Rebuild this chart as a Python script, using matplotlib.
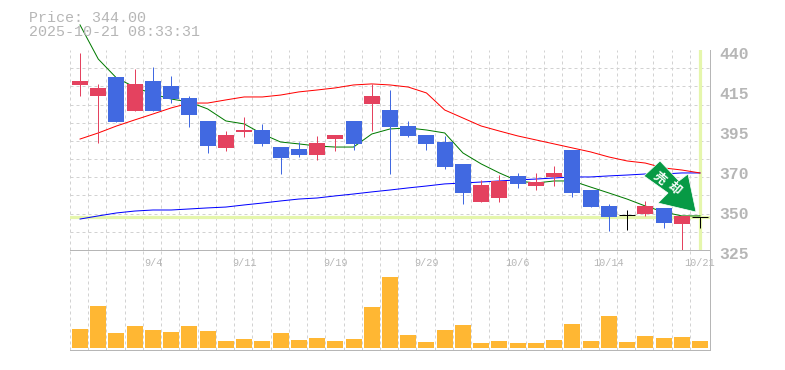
import numpy as np
import matplotlib
matplotlib.use("Agg")
import matplotlib.pyplot as plt
from matplotlib.patches import Polygon
from matplotlib.transforms import ScaledTranslation, blended_transform_factory

price_text = "Price: 344.00"
time_text = "2025-10-21 08:33:31"
signal_text = "売却"

highs = [438.3, 420.5, 424.5, 429.1, 430.2, 425.0, 413.6, 399.2, 393.4, 401.5, 397.5, 384.2,
         387.1, 390.6, 391.1, 399.2, 420.5, 417.0, 399.2, 391.1, 390.6, 374.5, 365.3, 368.1,
         369.3, 369.3, 373.3, 382.5, 359.5, 351.5, 348.0, 353.2, 349.2, 344.6, 344.0]
opens = [419.9, 413.6, 424.5, 404.9, 422.2, 419.3, 412.4, 399.2, 383.7, 392.9, 394.0, 384.2,
         383.1, 379.6, 388.8, 399.2, 409.0, 405.5, 396.3, 391.1, 387.1, 374.5, 352.6, 354.9,
         367.6, 361.8, 367.0, 382.5, 359.5, 350.3, 345.1, 345.7, 349.2, 340.0, 344.0]
closes = [422.2, 418.2, 398.6, 420.5, 404.9, 411.8, 402.6, 384.8, 391.1, 394.0, 386.0, 377.9,
          379.6, 386.5, 391.1, 386.0, 413.6, 395.7, 390.6, 386.0, 372.7, 357.8, 362.4, 364.7,
          363.0, 364.1, 369.3, 357.8, 349.7, 344.0, 345.1, 350.3, 340.5, 344.6, 344.0]
lows = [413.6, 386.5, 398.6, 404.9, 404.9, 409.5, 395.7, 380.8, 381.9, 390.0, 384.8, 368.7,
        378.5, 376.8, 381.9, 382.5, 393.4, 368.7, 390.0, 382.5, 371.6, 351.5, 352.6, 352.6,
        360.7, 359.5, 361.8, 355.5, 349.7, 335.9, 336.5, 344.6, 337.7, 324.4, 337.7]

ma_short = [454.4, 434.8, 423.9, 418.7, 414.7, 411.8, 410.1, 406.1, 399.2, 397.5, 391.7, 387.1,
            386.0, 384.8, 384.2, 384.2, 391.7, 394.6, 395.2, 394.0, 392.3, 380.8, 374.5, 369.3,
            364.7, 363.5, 364.7, 364.7, 361.2, 357.8, 354.3, 350.3, 346.9, 344.6, 344.6]
ma_mid = [388.8, 392.3, 396.3, 399.8, 403.2, 406.7, 409.5, 409.5, 411.3, 413.0, 413.0, 414.1,
          415.9, 417.0, 418.2, 419.9, 420.5, 419.9, 418.7, 415.3, 405.5, 400.9, 396.3, 393.4,
          390.6, 388.3, 386.0, 383.7, 381.4, 378.5, 376.2, 375.0, 372.2, 371.0, 369.3]
ma_long = [342.8, 344.6, 346.3, 347.4, 348.0, 348.0, 348.6, 349.2, 349.7, 350.9, 352.0, 353.2,
           354.3, 354.9, 356.1, 357.2, 358.4, 359.5, 360.7, 361.8, 363.0, 363.5, 364.1, 364.7,
           365.3, 365.8, 366.4, 367.0, 367.0, 367.6, 368.1, 368.7, 368.7, 369.3, 369.3]
volumes = [19, 42, 15, 22, 18, 16, 22, 17, 7, 9, 7, 15, 8, 10, 7, 9, 41, 71,
           13, 6, 18, 23, 5, 7, 5, 5, 8, 24, 7, 32, 6, 12, 10, 11, 7]

date_labels = ["9/4", "9/11", "9/19", "9/29", "10/6", "10/14", "10/21"]
date_positions = [4, 9, 14, 19, 24, 29, 34]
price_ticks = [325, 348, 371, 394, 417, 440]
price_labels = ["325", "350", "370", "395", "415", "440"]

W, H = 785, 370
GRAY = "#b6b6b6"
GRID = "#d2d2d2"
RED = "#E4425F"
BLUE = "#4169E1"
ORANGE = "#FFB733"
HILITE = "#E5F6AC"
PX = 0.72
MONO = "Liberation Mono"

fig = plt.figure(figsize=(W / 100, H / 100), dpi=100, facecolor="white")
ax1 = fig.add_axes([70 / W, (H - 250) / H, 640 / W, 200 / H])
ax2 = fig.add_axes([70 / W, (H - 350) / H, 640 / W, 100 / H])

n = len(closes)
xs = np.arange(n)
grid_x = np.arange(n) - 0.55

for ax in (ax1, ax2):
    ax.set_xlim(-0.55, 34.55)
    ax.set_xticks(grid_x)
    ax.tick_params(axis="x", length=0, labelbottom=False)
    ax.grid(axis="x", color=GRID, lw=1 * PX, ls=(0, (3, 3)))
    ax.set_axisbelow(True)
    for s in ax.spines.values():
        s.set_color(GRAY)
        s.set_linewidth(1 * PX)
    ax.spines["left"].set_visible(False)

ax1.spines["top"].set_visible(False)

# Price panel
ax1.set_ylim(325, 440)
ax1.set_yticks(np.linspace(325, 440, 12), minor=True)
ax1.tick_params(axis="y", which="minor", length=0)
ax1.grid(axis="y", which="minor", color=GRID, lw=1 * PX, ls=(0, (3, 3)))
ax1.yaxis.tick_right()
ax1.set_yticks(price_ticks)
ax1.set_yticklabels(price_labels, family=MONO, fontsize=11.8, color=GRAY, fontweight="bold")
ax1.tick_params(axis="y", which="major", length=0, pad=7)
shift = ScaledTranslation(0, -3 / 100, fig.dpi_scale_trans)
for lab in ax1.get_yticklabels():
    lab.set_transform(lab.get_transform() + shift)

ax1.axhline(closes[-1], xmax=0.997, color=HILITE, lw=3.2 * PX, zorder=1.5)
ax1.axvline(xs[-1], ymin=0.006, ymax=0.995, color=HILITE, lw=3.2 * PX, zorder=1.5)

ax1.plot(xs, ma_long, color="#0000FF", lw=1.0 * PX, zorder=2)
ax1.plot(xs, ma_mid, color="#FF0000", lw=1.0 * PX, zorder=2)
ax1.plot(xs, ma_short, color="#007A00", lw=1.0 * PX, zorder=2, clip_on=False)

for i in xs:
    o, c, h, l = opens[i], closes[i], highs[i], lows[i]
    if o == c:
        col = "black"
    else:
        col = RED if c > o else BLUE
    ax1.vlines(i, l, h, color=col, lw=1.0 * PX, zorder=3)
    if o == c:
        ax1.hlines(c, i - 0.45, i + 0.45, color=col, lw=1.0 * PX, zorder=3)
    else:
        ax1.bar(i, abs(c - o), bottom=min(o, c), width=16 / 18.235, color=col, lw=0, zorder=3)

# Volume panel
ax2.set_ylim(-2, 98)
ax2.set_yticks([])
ax2.bar(xs, volumes, width=16 / 18.235, color=ORANGE, lw=0, zorder=3)
trans = blended_transform_factory(ax2.transData, ax2.transAxes)
for p, t in zip(date_positions, date_labels):
    ax2.text(p, 0.875, t, transform=trans, ha="center", va="center",
             family=MONO, fontsize=7.3, color=GRAY, zorder=4, clip_on=False)

# Header text
fig.text(29 / W, 1 - 18 / H, price_text, family=MONO, fontsize=10.8, color=GRAY, va="center")
fig.text(29 / W, 1 - 32 / H, time_text, family=MONO, fontsize=10.8, color=GRAY, va="center")

# Signal arrow overlay
arrow_px = [(660, 161), (679, 181), (688, 174), (696, 212), (658, 203), (668, 193), (644, 176)]
fig.add_artist(Polygon([(x / W, 1 - y / H) for x, y in arrow_px], closed=True,
                       transform=fig.transFigure, facecolor="#079A45", edgecolor="white",
                       lw=0.5, zorder=10))
for ch, (x, y) in zip(signal_text, [(659, 178), (674, 189)]):
    fig.text(x / W, 1 - y / H, ch, family="Noto Sans CJK JP", fontsize=9, fontweight="bold",
             color="white", rotation=-40, ha="center", va="center", zorder=11)

fig.savefig("out.png", dpi=100, facecolor="white")
